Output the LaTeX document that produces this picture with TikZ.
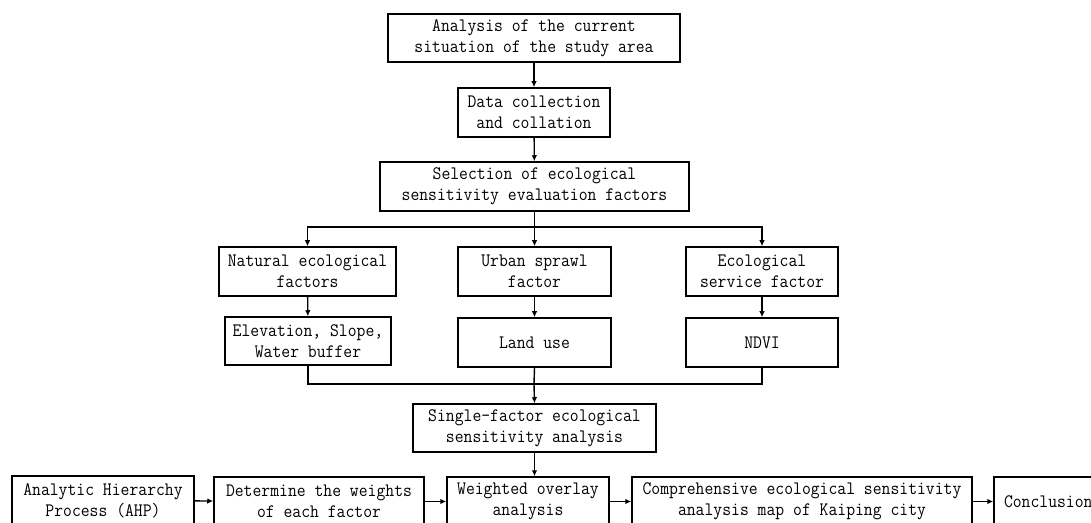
\documentclass[tikz,border=0pt]{standalone}
\usepackage{fontspec}
\setmainfont{Latin Modern Mono}[FakeStretch=0.905]
\usetikzlibrary{arrows.meta}
\tikzset{
  box/.style={draw, line width=1.5bp, inner sep=0pt, align=center,
    minimum height=49bp, font=\fontsize{19bp}{21bp}\selectfont},
  conn/.style={line width=1.4bp},
  arr/.style={conn, -{Latex[length=6bp,width=5.5bp]}}
}
\begin{document}
\begin{tikzpicture}[x=1bp,y=-1bp]
\useasboundingbox (0,0) rectangle (1091,523);
\node[box, minimum width=292bp, minimum height=48bp] (n1) at (534,38) {Analysis of the current\\situation of the study area};
\node[box, minimum width=152bp] (n2) at (534,112.5) {Data collection\\and collation};
\node[box, minimum width=309bp] (n3) at (534.5,186.5) {Selection of ecological\\sensitivity evaluation factors};
\node[box, minimum width=177bp] (nat) at (307.5,271.5) {Natural ecological\\factors};
\node[box, minimum width=166bp, minimum height=48bp] (elev) at (308,341) {Elevation, Slope,\\Water buffer};
\node[box, minimum width=153bp] (urb) at (534.5,271.5) {Urban sprawl\\factor};
\node[box, minimum width=153bp] (land) at (534.5,342.5) {Land use};
\node[box, minimum width=152bp] (eco) at (762,271.5) {Ecological\\service factor};
\node[box, minimum width=152bp] (ndvi) at (762,342.5) {NDVI};
\node[box, minimum width=243bp, minimum height=48bp] (single) at (534.5,428) {Single-factor ecological\\sensitivity analysis};
\node[box, minimum width=182bp] (ahp) at (103,500.5) {Analytic Hierarchy\\Process (AHP)};
\node[box, minimum width=210bp] (det) at (319,501.5) {Determine the weights\\of each factor};
\node[box, minimum width=162bp] (wo) at (528,501.5) {Weighted overlay\\analysis};
\node[box, minimum width=340bp] (comp) at (802,501.5) {Comprehensive ecological sensitivity\\analysis map of Kaiping city};
\node[box, minimum width=116bp, text width=116bp, align=left] (conc) at (1052,501.5) {\hspace*{10bp}Conclusion};
\coordinate (b) at (534,227);
\coordinate (m) at (534,384);
\draw[arr] (n1) -- (n2);
\draw[arr] (n2) -- (n3);
\draw[arr] (n3.south) -- (urb.north);
\draw[arr] (b) -| (nat.north);
\draw[arr] (b) -| (eco.north);
\draw[arr] (nat) -- (elev);
\draw[arr] (urb) -- (land);
\draw[arr] (eco) -- (ndvi);
\draw[conn] (elev.south) |- (m);
\draw[conn] (ndvi.south) |- (m);
\draw[conn] (land.south) -- (m);
\draw[arr] (m) -- (single.north);
\draw[arr] (single.south) -- (single.south |- wo.north);
\draw[arr] (ahp) -- (det);
\draw[arr] (det) -- (wo);
\draw[arr] (wo) -- (comp);
\draw[arr] (comp) -- (conc);
\end{tikzpicture}
\end{document}
